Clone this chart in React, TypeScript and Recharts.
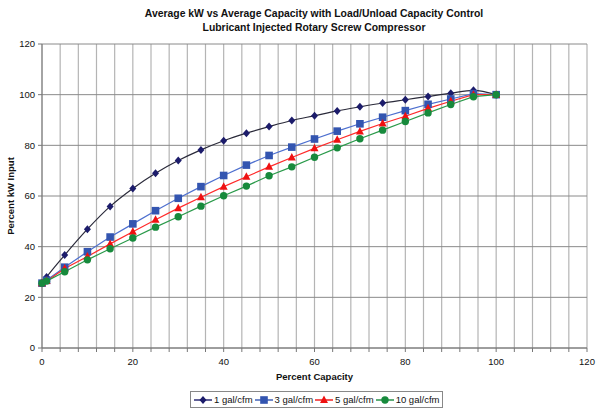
import React from 'react';
import { LineChart, Line, XAxis, YAxis, CartesianGrid } from 'recharts';

// Percent capacity points (x)
const capacity = [0, 1, 5, 10, 15, 20, 25, 30, 35, 40, 45, 50, 55, 60, 65, 70, 75, 80, 85, 90, 95, 100];

// Percent kW input per storage size
const gal1 = [25.6, 28.0, 36.7, 46.9, 55.9, 63.0, 69.0, 74.0, 78.2, 81.8, 84.8, 87.4, 89.8, 91.7, 93.6, 95.2, 96.7, 98.0, 99.3, 100.6, 101.7, 100];
const gal3 = [25.6, 26.7, 31.9, 38.0, 43.8, 49.0, 54.2, 59.1, 63.7, 68.1, 72.2, 76.0, 79.3, 82.5, 85.6, 88.5, 91.1, 93.7, 96.2, 98.3, 100.4, 100];
const gal5 = [25.6, 26.4, 31.4, 36.1, 41.1, 45.9, 50.6, 55.2, 59.5, 63.7, 67.6, 71.5, 75.2, 78.8, 82.2, 85.5, 88.6, 91.5, 94.6, 97.4, 100, 100];
const gal10 = [25.6, 26.4, 30.1, 34.8, 39.2, 43.4, 47.7, 51.8, 56.0, 60.1, 63.9, 68.0, 71.5, 75.3, 79.0, 82.6, 86.0, 89.4, 92.8, 96.1, 99.2, 100];

const seriesNames = ['1 gal/cfm', '3 gal/cfm', '5 gal/cfm', '10 gal/cfm'];

const xTicks = Array.from({ length: 31 }, (_, i) => i * 4);
const yTicks = [0, 20, 40, 60, 80, 100, 120];

const data = capacity.map((c, i) => ({
  capacity: c,
  g1: gal1[i],
  g3: gal3[i],
  g5: gal5[i],
  g10: gal10[i],
}));

const FONT = '"Liberation Sans", Arial, sans-serif';

const Diamond = ({ cx, cy, color }: any) => (
  <path d={`M${cx},${cy - 4} L${cx + 3.5},${cy} L${cx},${cy + 4} L${cx - 3.5},${cy} Z`} fill={color} />
);
const Square = ({ cx, cy, color }: any) => (
  <rect x={cx - 3.8} y={cy - 3.8} width={7.6} height={7.6} fill={color} />
);
const Triangle = ({ cx, cy, color }: any) => (
  <path d={`M${cx},${cy - 4.5} L${cx + 4},${cy + 3} L${cx - 4},${cy + 3} Z`} fill={color} />
);
const Circle = ({ cx, cy, color }: any) => <circle cx={cx} cy={cy} r={3.7} fill={color} />;

const markers = [Diamond, Square, Triangle, Circle];
const markerColors = ['#1c1c6b', '#3355b0', '#ee1111', '#178a3c'];
const lineColors = ['#2a2a3a', '#4d6fcf', '#ff2a2a', '#2a9a4a'];
const legendLineColors = ['#1c1c6b', '#3355b0', '#ee1111', '#178a3c'];
const keys = ['g1', 'g3', 'g5', 'g10'];

const makeDot = (idx: number) => (props: any) => {
  const M = markers[idx];
  if (props.cx == null || props.cy == null) return <g key={props.key} />;
  return (
    <g key={`${keys[idx]}-${props.index}`}>
      <M cx={props.cx} cy={props.cy} color={markerColors[idx]} />
    </g>
  );
};

export default function App() {
  return (
    <div style={{ position: 'absolute', left: 0, top: 0, width: 600, height: 413, background: '#fff', fontFamily: FONT }}>
      <div style={{ position: 'absolute', left: 0, top: 7, width: 628, textAlign: 'center', fontWeight: 'bold', fontSize: 10.4, lineHeight: '14px', color: '#111' }}>
        Average kW vs Average Capacity with Load/Unload Capacity Control
        <br />
        Lubricant Injected Rotary Screw Compressor
      </div>
      <div
        style={{
          position: 'absolute',
          left: 10,
          top: 196,
          transform: 'translate(-50%, -50%) rotate(-90deg)',
          fontWeight: 'bold',
          fontSize: 9.5,
          whiteSpace: 'nowrap',
          color: '#111',
        }}
      >
        Percent kW Input
      </div>
      <LineChart
        width={600}
        height={413}
        data={data}
        margin={{ top: 44, right: 13, bottom: 33, left: 0 }}
        style={{ position: 'absolute', left: 0, top: 0 }}
      >
        <CartesianGrid vertical={true} horizontal={false} stroke="#b4b4b4" strokeWidth={1.2} />
        <CartesianGrid vertical={false} horizontal={true} stroke="#8a8a8a" strokeWidth={1} />
        <XAxis
          type="number"
          dataKey="capacity"
          domain={[0, 120]}
          ticks={xTicks}
          interval={0}
          tickFormatter={(v: number) => (v % 20 === 0 ? String(v) : '')}
          tick={{ fontSize: 9.5, fill: '#111', fontFamily: FONT }}
          tickSize={4}
          tickMargin={6}
          stroke="#777"
          height={32}
          label={{ value: 'Percent Capacity', position: 'insideBottom', offset: 0, style: { fontSize: 9.5, fontWeight: 'bold', fill: '#111', fontFamily: FONT } }}
        />
        <YAxis
          type="number"
          domain={[0, 120]}
          ticks={yTicks}
          interval={0}
          width={42}
          tick={{ fontSize: 9.5, fill: '#111', fontFamily: FONT }}
          tickSize={4}
          tickMargin={3}
          stroke="#777"
        />
        {keys.map((k, i) => (
          <Line
            key={k}
            dataKey={k}
            name={seriesNames[i]}
            type={i === 0 ? 'monotone' : 'linear'}
            stroke={lineColors[i]}
            strokeWidth={1.2}
            dot={makeDot(i)}
            activeDot={false}
            isAnimationActive={false}
          />
        ))}
      </LineChart>
      <div
        style={{
          position: 'absolute',
          left: 190,
          top: 391,
          height: 15,
          padding: '0 3px',
          border: '1px solid #888',
          display: 'flex',
          alignItems: 'center',
          fontSize: 9.5,
          color: '#111',
          whiteSpace: 'nowrap',
        }}
      >
        {seriesNames.map((n, i) => {
          const M = markers[i];
          return (
            <span key={n} style={{ display: 'flex', alignItems: 'center', marginRight: i < 3 ? 2 : 0 }}>
              <svg width={18} height={12}>
                <line x1={0} y1={6} x2={18} y2={6} stroke={legendLineColors[i]} strokeWidth={1.4} />
                <M cx={9} cy={6} color={markerColors[i]} />
              </svg>
              <span style={{ marginLeft: 2 }}>{n}</span>
            </span>
          );
        })}
      </div>
    </div>
  );
}
